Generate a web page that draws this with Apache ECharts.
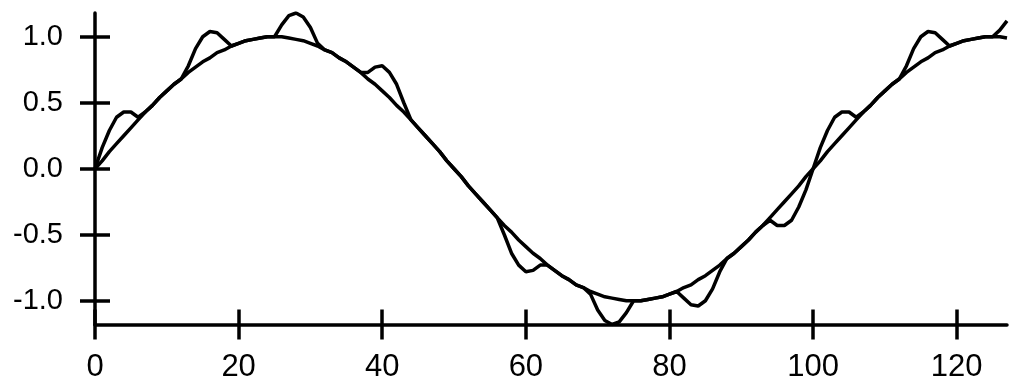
<!DOCTYPE html>
<html>
<head>
<meta charset="utf-8">
<script src="https://cdn.jsdelivr.net/npm/echarts@6/dist/echarts.min.js"></script>
<style>
  html, body { margin: 0; padding: 0; background: #fff; }
  #chart { width: 1023px; height: 391px; }
</style>
</head>
<body>
<div id="chart"></div>
<script>
// ---- data ----
const xValues = [
  0,1,2,3,4,5,6,7,8,9,10,11,12,13,14,15,16,17,18,19,20,21,22,23,24,25,
  26,27,28,29,30,31,32,33,34,35,36,37,38,39,40,41,42,43,44,45,46,47,48,49,50,
  51,52,53,54,55,56,57,58,59,60,61,62,63,64,65,66,67,68,69,70,71,72,73,74,75,
  76,77,78,79,80,81,82,83,84,85,86,87,88,89,90,91,92,93,94,95,96,97,98,99,100,
  101,102,103,104,105,106,107,108,109,110,111,112,113,114,115,116,117,118,119,120,
  121,122,123,124,125,126,127
];
const smoothValues = [
  0,0.06,0.13,0.19,0.25,0.31,0.37,0.43,0.48,0.54,0.59,0.64,0.68,0.73,0.77,0.81,0.84,0.88,0.90,0.93,0.95,0.97,0.98,0.99,1.00,1.00,
  1.00,0.99,0.98,0.97,0.95,0.93,0.90,0.88,0.84,0.81,0.77,0.73,0.68,0.64,0.59,0.54,0.48,0.43,0.37,0.31,0.25,0.19,0.13,0.06,0,
  -0.06,-0.13,-0.19,-0.25,-0.31,-0.37,-0.43,-0.48,-0.54,-0.59,-0.64,-0.68,-0.73,-0.77,-0.81,-0.84,-0.88,-0.90,-0.93,-0.95,-0.97,-0.98,-0.99,-1.00,-1.00,
  -1.00,-0.99,-0.98,-0.97,-0.95,-0.93,-0.90,-0.88,-0.84,-0.81,-0.77,-0.73,-0.68,-0.64,-0.59,-0.54,-0.48,-0.43,-0.37,-0.31,-0.25,-0.19,-0.13,-0.06,0,
  0.06,0.13,0.19,0.25,0.31,0.37,0.43,0.48,0.54,0.59,0.64,0.68,0.73,0.77,0.81,0.84,0.88,0.90,0.93,0.95,
  0.97,0.98,0.99,1.00,1.00,1.00,0.99
];
const wobblyValues = [
  0,0.16,0.29,0.39,0.43,0.43,0.39,0.43,0.48,0.54,0.59,0.64,0.68,0.78,0.91,1.00,1.04,1.03,0.98,0.93,0.95,0.97,0.98,0.99,1.00,1.00,
  1.09,1.16,1.18,1.15,1.07,0.95,0.90,0.88,0.84,0.81,0.77,0.73,0.73,0.77,0.78,0.73,0.64,0.50,0.37,0.31,0.25,0.19,0.13,0.06,0,
  -0.06,-0.13,-0.19,-0.25,-0.31,-0.37,-0.50,-0.64,-0.73,-0.78,-0.77,-0.73,-0.73,-0.77,-0.81,-0.84,-0.88,-0.90,-0.95,-1.07,-1.15,-1.18,-1.16,-1.09,-1.00,
  -1.00,-0.99,-0.98,-0.97,-0.95,-0.93,-0.98,-1.03,-1.04,-1.00,-0.91,-0.78,-0.68,-0.64,-0.59,-0.54,-0.48,-0.43,-0.39,-0.43,-0.43,-0.39,-0.29,-0.16,0,
  0.16,0.29,0.39,0.43,0.43,0.39,0.43,0.48,0.54,0.59,0.64,0.68,0.78,0.91,1.00,1.04,1.03,0.98,0.93,0.95,
  0.97,0.98,0.99,1.00,1.00,1.05,1.12
];
const xTickValues = [0, 20, 40, 60, 80, 100, 120];
const yTickValues = [-1.0, -0.5, 0.0, 0.5, 1.0];
const xRange = [0, 127];
const yRange = [-1.18, 1.18];

// ---- chart ----
const FONT = '"Liberation Sans", Arial, Helvetica, sans-serif';
const black = '#000';
const pairs = (ys) => xValues.map((x, i) => [x, ys[i]]);

function xAxisDef(inside, withLine, withLabel) {
  return {
    type: 'value', position: 'bottom', min: xRange[0], max: xRange[1],
    axisLine: { show: withLine, onZero: false, lineStyle: { color: black, width: 3.5 } },
    axisTick: { show: true, inside: inside, length: 15, customValues: xTickValues,
                lineStyle: { color: black, width: 3.5 } },
    axisLabel: { show: withLabel, customValues: xTickValues, margin: 27,
                 color: black, fontSize: 31, fontFamily: FONT },
    splitLine: { show: false }
  };
}
function yAxisDef(inside, withLine, withLabel) {
  return {
    type: 'value', position: 'left', min: yRange[0], max: yRange[1],
    axisLine: { show: withLine, onZero: false, lineStyle: { color: black, width: 3.5 } },
    axisTick: { show: true, inside: inside, length: 15, customValues: yTickValues,
                lineStyle: { color: black, width: 3.5 } },
    axisLabel: { show: withLabel, customValues: yTickValues, margin: 32,
                 color: black, fontSize: 29, fontFamily: FONT,
                 formatter: (v) => v.toFixed(1) },
    splitLine: { show: false }
  };
}

const chart = echarts.init(document.getElementById('chart'), null, { renderer: 'canvas' });
chart.setOption({
  animation: false,
  backgroundColor: '#fff',
  grid: { left: 95, right: 16, top: 13, bottom: 66.5, containLabel: false },
  xAxis: [xAxisDef(false, true, true), xAxisDef(true, false, false)],
  yAxis: [yAxisDef(false, true, true), yAxisDef(true, false, false)],
  series: [
    { type: 'line', xAxisIndex: 0, yAxisIndex: 0, data: pairs(smoothValues),
      showSymbol: false, smooth: false, lineStyle: { color: black, width: 3.5 } },
    { type: 'line', xAxisIndex: 0, yAxisIndex: 0, data: pairs(wobblyValues),
      showSymbol: false, smooth: false, lineStyle: { color: black, width: 3.5 } }
  ]
});
</script>
</body>
</html>
